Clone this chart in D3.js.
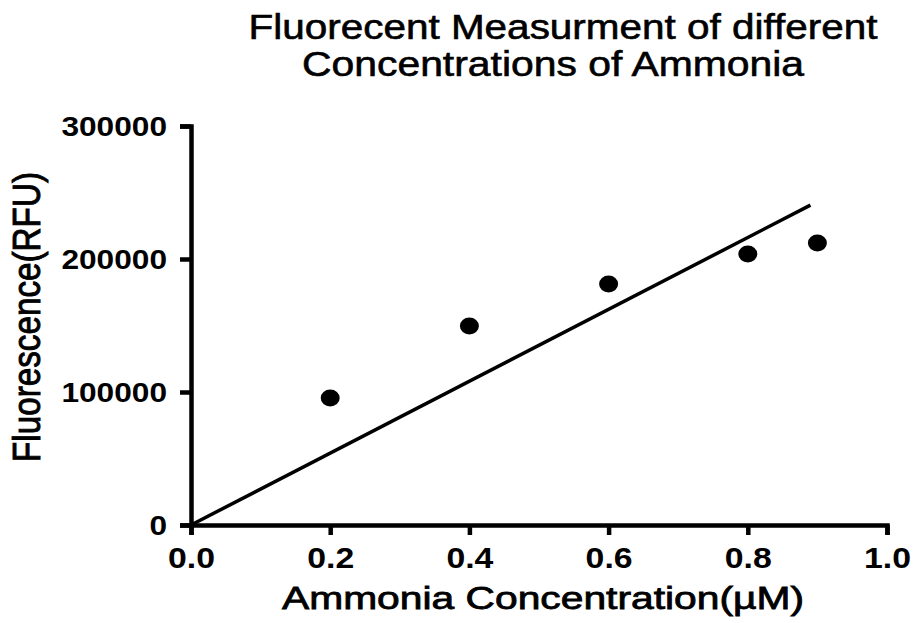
<!DOCTYPE html>
<html>
<head>
<meta charset="utf-8">
<script src="https://cdn.jsdelivr.net/npm/d3@7"></script>
<style>
  body { margin: 0; background: #fff; }
  svg text { font-family: "Liberation Sans", Arial, sans-serif; fill: #000; }
</style>
</head>
<body>
<svg id="chart"></svg>
<script>
// ammonia concentration (uM) vs fluorescence (RFU)
var concentration = [0.2, 0.4, 0.6, 0.8, 0.9];
var fluorescence = [95500, 149600, 181200, 203800, 212000];
// fitted line through origin, as drawn
var fitX = [0, 0.89];
var fitY = [0, 240500];
var xTicks = [0, 0.2, 0.4, 0.6, 0.8, 1.0];
var yTicks = [0, 100000, 200000, 300000];
var titleLines = ["Fluorecent Measurment of different", "Concentrations of Ammonia"];

const W = 913, H = 623;
const margin = {top: 126, right: 26, bottom: 98, left: 191};

var svg = d3.select("#chart").attr("width", W).attr("height", H);

var x = d3.scaleLinear().domain([0, 1]).range([margin.left, W - margin.right]);
var y = d3.scaleLinear().domain([0, 300000]).range([H - margin.bottom, margin.top]);

// axes
var xAxis = d3.axisBottom(x).tickValues(xTicks).tickFormat(d3.format(".1f")).tickSize(10).tickPadding(6);
var yAxis = d3.axisLeft(y).tickValues(yTicks).tickFormat(d3.format("d")).tickSize(11).tickPadding(13);

var xG = svg.append("g").attr("transform", "translate(0," + y(0) + ")").call(xAxis);
var yG = svg.append("g").attr("transform", "translate(" + x(0) + ",0)").call(yAxis);

[xG, yG].forEach(function(g) {
  g.select(".domain").attr("stroke", "#000").attr("stroke-width", 4.5);
  g.selectAll(".tick line").attr("stroke", "#000").attr("stroke-width", 4.5);
  g.selectAll(".tick text").attr("fill", "#000")
    .attr("font-family", "Liberation Sans, Arial, sans-serif").attr("font-weight", "bold")
    .attr("lengthAdjust", "spacingAndGlyphs");
});
// the reference text is stretched sideways, so widths are pinned
xG.selectAll(".tick text").attr("font-size", 29).attr("dy", "0.92em")
  .attr("textLength", 47);
yG.selectAll(".tick text").attr("font-size", 27).attr("dy", "0.36em")
  .attr("textLength", d => String(d).length * 17.6);

// fit line
var line = d3.line().x(d => x(d[0])).y(d => y(d[1]));
svg.append("path")
  .datum(fitX.map((v, i) => [v, fitY[i]]))
  .attr("d", line)
  .attr("fill", "none")
  .attr("stroke", "#000")
  .attr("stroke-width", 3.5);

// points
svg.selectAll("ellipse.pt")
  .data(concentration)
  .enter().append("ellipse")
    .attr("class", "pt")
    .attr("cx", d => x(d))
    .attr("cy", (d, i) => y(fluorescence[i]))
    .attr("rx", 9.5)
    .attr("ry", 8.5)
    .attr("fill", "#000");

// title
var titlePos = [{x: 563, y: 39, w: 629}, {x: 553, y: 76, w: 502}];
svg.selectAll("text.title")
  .data(titleLines)
  .enter().append("text")
    .attr("class", "title")
    .attr("x", (d, i) => titlePos[i].x)
    .attr("y", (d, i) => titlePos[i].y)
    .attr("text-anchor", "middle")
    .attr("font-size", 35)
    .attr("stroke", "#000").attr("stroke-width", 0.6)
    .attr("textLength", (d, i) => titlePos[i].w)
    .attr("lengthAdjust", "spacingAndGlyphs")
    .text(d => d);

// axis titles
svg.append("text")
  .attr("x", 543).attr("y", 609)
  .attr("text-anchor", "middle")
  .attr("font-size", 32)
  .attr("stroke", "#000").attr("stroke-width", 0.8)
  .attr("textLength", 522)
  .attr("lengthAdjust", "spacingAndGlyphs")
  .text("Ammonia Concentration(\u00b5M)");

svg.append("text")
  .attr("transform", "translate(40,317) scale(1.2,1) rotate(-90)")
  .attr("text-anchor", "middle")
  .attr("font-size", 33)
  .attr("stroke", "#000").attr("stroke-width", 0.8)
  .attr("textLength", 290)
  .attr("lengthAdjust", "spacingAndGlyphs")
  .text("Fluorescence(RFU)");
</script>
</body>
</html>
